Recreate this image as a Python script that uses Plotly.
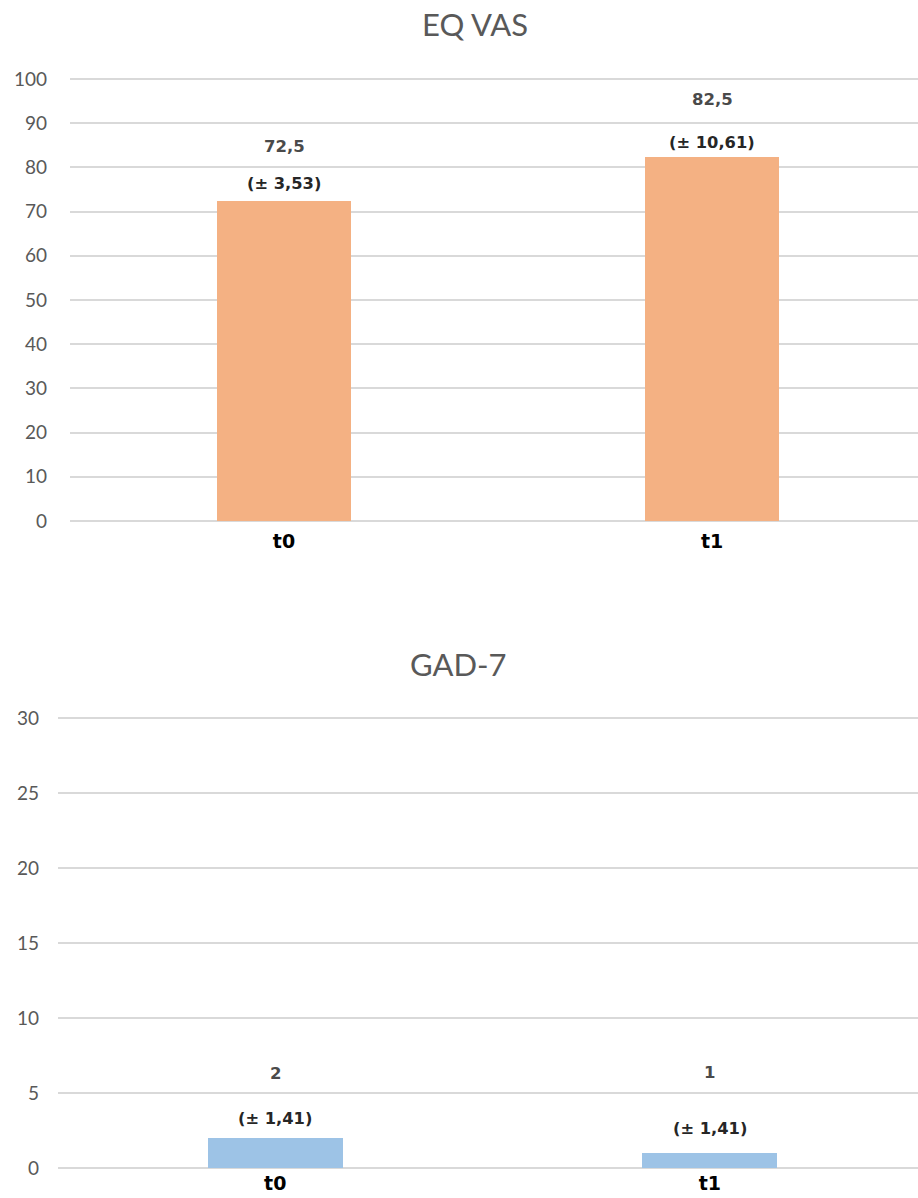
import plotly.graph_objects as go

# Measurement time points
categories = ["t0", "t1"]

# EQ VAS: mean and standard deviation per time point
eq_vas_mean = [72.5, 82.5]
eq_vas_sd = [3.53, 10.61]

# GAD-7: mean and standard deviation per time point
gad7_mean = [2, 1]
gad7_sd = [1.41, 1.41]

# Y-axis ticks for each panel
eq_vas_ticks = [0, 10, 20, 30, 40, 50, 60, 70, 80, 90, 100]
gad7_ticks = [0, 5, 10, 15, 20, 25, 30]

W, H = 918, 1198
FONT = "Lato, Open Sans, sans-serif"
LABEL_FONT = "DejaVu Sans, sans-serif"
GRID = "#D9D9D9"
TICK_COLOR = "#595959"


def fmt_value(v):
    return f"{v:g}".replace(".", ",")


def fmt_sd(v):
    return f"(± {v:.2f})".replace(".", ",")


def py(px):
    """Convert a pixel row (from top) into paper coordinates."""
    return 1 - px / H


fig = go.Figure()

fig.add_trace(go.Bar(
    x=categories, y=eq_vas_mean, width=0.313,
    marker=dict(color="#F4B183", line=dict(width=0)),
    xaxis="x", yaxis="y", hoverinfo="skip",
))
fig.add_trace(go.Bar(
    x=categories, y=gad7_mean, width=0.31,
    marker=dict(color="#9DC3E6", line=dict(width=0)),
    xaxis="x2", yaxis="y2", hoverinfo="skip",
))

annotations = []

# value and SD labels above each bar (pixel offsets above the bar top)
panels = [
    ("x", "y", eq_vas_mean, eq_vas_sd, [54.5, 57], [17.5, 14]),
    ("x2", "y2", gad7_mean, gad7_sd, [65, 81], [20, 25]),
]
for xr, yr, means, sds, v_shift, sd_shift in panels:
    for i, cat in enumerate(categories):
        annotations.append(dict(
            x=cat, y=means[i], xref=xr, yref=yr, yshift=v_shift[i],
            xanchor="center", yanchor="middle",
            text=fmt_value(means[i]), showarrow=False,
            font=dict(family=LABEL_FONT, size=16.5, color="#4a4a4a", weight="bold"),
        ))
        annotations.append(dict(
            x=cat, y=means[i], xref=xr, yref=yr, yshift=sd_shift[i],
            xanchor="center", yanchor="middle",
            text=fmt_sd(sds[i]), showarrow=False,
            font=dict(family=LABEL_FONT, size=16.3, color="#262626", weight="bold"),
        ))

# panel titles
annotations.append(dict(
    x=475 / W, y=py(24), xref="paper", yref="paper", text="EQ VAS",
    xanchor="center", yanchor="middle",
    showarrow=False, font=dict(family=FONT, size=31, color=TICK_COLOR),
))
annotations.append(dict(
    x=458 / W, y=py(664), xref="paper", yref="paper", text="GAD-7",
    xanchor="center", yanchor="middle",
    showarrow=False, font=dict(family=FONT, size=31, color=TICK_COLOR),
))

xaxis_common = dict(
    showgrid=False, showline=False, zeroline=False, ticks="",
    automargin=False,
    tickfont=dict(family=LABEL_FONT, size=19, color="#000000", weight="bold"),
    fixedrange=True,
)
yaxis_common = dict(
    showgrid=True, gridcolor=GRID, gridwidth=1.5, zeroline=False,
    showline=False, ticks="", automargin=False,
    tickfont=dict(family=FONT, size=19, color=TICK_COLOR),
    fixedrange=True,
)

# axis ranges are padded slightly so the edge gridlines are drawn
fig.update_layout(
    width=W, height=H,
    margin=dict(l=0, r=0, t=0, b=0),
    paper_bgcolor="white", plot_bgcolor="white",
    showlegend=False, bargap=0,
    xaxis=dict(domain=[70 / W, 1], range=[-0.5, 1.481], anchor="y",
               ticklabelstandoff=5, **xaxis_common),
    yaxis=dict(domain=[py(523.21), py(76.79)], range=[-0.5, 100.5], anchor="x",
               tickvals=eq_vas_ticks, ticklabelstandoff=22, **yaxis_common),
    xaxis2=dict(domain=[58 / W, 1], range=[-0.5, 1.479], anchor="y2",
                ticklabelstandoff=0, **xaxis_common),
    yaxis2=dict(domain=[py(1170.25), py(715.75)], range=[-0.15, 30.15], anchor="x2",
                tickvals=gad7_ticks, ticklabelstandoff=18, **yaxis_common),
    annotations=annotations,
)

fig.write_html("out.html")
